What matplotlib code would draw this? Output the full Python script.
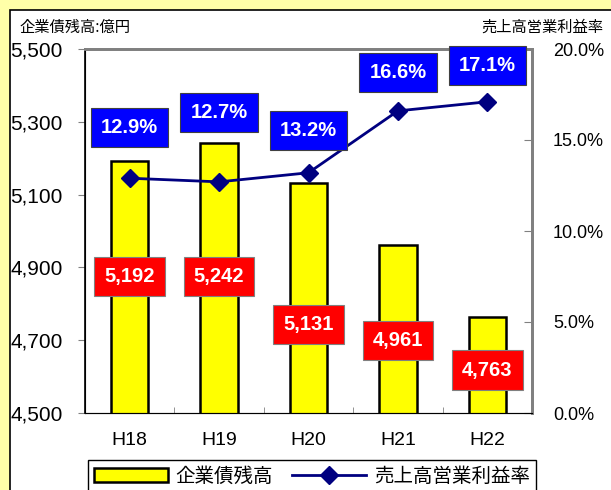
import matplotlib.pyplot as plt
from matplotlib.patches import Rectangle

plt.rcParams['font.family'] = ['Liberation Sans', 'Noto Sans CJK JP', 'DejaVu Sans']

years = ['H18', 'H19', 'H20', 'H21', 'H22']
bonds = [5192, 5242, 5131, 4961, 4763]
margin = [12.9, 12.7, 13.2, 16.6, 17.1]
bond_labels = ['5,192', '5,242', '5,131', '4,961', '4,763']
bond_label_y = [4876, 4876, 4742, 4700, 4618]
margin_label_y = [15.7, 16.5, 15.5, 18.7, 19.1]

fig = plt.figure(figsize=(6.11, 4.90), dpi=100)
fig.patch.set_facecolor('#FFFFA8')
fig.patches.append(Rectangle((10 / 611, -0.1), 1.2, (1 - 10 / 490) + 0.1,
                             transform=fig.transFigure, facecolor='white',
                             edgecolor='black', linewidth=1.2, zorder=-5))

ax = fig.add_axes([85 / 611, 1 - 413 / 490, (532 - 85) / 611, (413 - 49) / 490])
ax.set_facecolor('white')
x = range(len(years))
ax.bar(x, bonds, width=0.42, color='#FFFF00', edgecolor='black', linewidth=1.8,
       label='企業債残高', zorder=2)
ax.set_ylim(4500, 5500)
ax.set_xlim(-0.5, 4.5)
ax.set_yticks([4500, 4700, 4900, 5100, 5300, 5500])
ax.set_yticklabels(['4,500', '4,700', '4,900', '5,100', '5,300', '5,500'], fontsize=15)
ax.set_xticks(x)
ax.set_xticklabels(years, fontsize=14)
ax.set_xticks([0.5, 1.5, 2.5, 3.5], minor=True)
ax.tick_params(axis='x', which='major', length=0, pad=14)
ax.tick_params(axis='x', which='minor', direction='in', length=4, color='gray')
ax.tick_params(axis='y', length=5, color='gray', pad=11)
ax.spines['top'].set_color('gray')
ax.spines['right'].set_color('gray')
ax.spines['top'].set_linewidth(2)
ax.spines['right'].set_linewidth(2)
ax.spines['left'].set_linewidth(1.2)
ax.spines['bottom'].set_color('#404040')

for i in x:
    ax.text(i, bond_label_y[i], bond_labels[i], ha='center', va='center',
            fontsize=14.5, fontweight='bold', color='white', zorder=5,
            bbox=dict(boxstyle='square,pad=0.5', facecolor='#FF0000',
                      edgecolor='#808080', linewidth=0.8))

ax2 = ax.twinx()
ax2.plot(x, margin, color='#000080', linewidth=2, marker='D', markersize=9,
         label='売上高営業利益率', zorder=4)
ax2.set_ylim(0, 20)
ax2.set_yticks([0, 5, 10, 15, 20])
ax2.set_yticklabels(['0.0%', '5.0%', '10.0%', '15.0%', '20.0%'], fontsize=13)
ax2.tick_params(axis='y', direction='in', length=6, color='gray', pad=15)
for s in ['top', 'right']:
    ax2.spines[s].set_color('gray')
    ax2.spines[s].set_linewidth(2)

for i in x:
    ax2.text(i, margin_label_y[i], f'{margin[i]}%', ha='center', va='center',
             fontsize=14.5, fontweight='bold', color='white', zorder=5,
             bbox=dict(boxstyle='square,pad=0.5', facecolor='#0000FF',
                       edgecolor='#404040', linewidth=0.8))

fig.text(20 / 611, 1 - 27 / 490, '企業債残高:億円', fontsize=11,
         family=['Noto Sans CJK JP'], va='center', ha='left')
fig.text(603 / 611, 1 - 27 / 490, '売上高営業利益率', fontsize=11,
         family=['Noto Sans CJK JP'], va='center', ha='right')

h1, l1 = ax.get_legend_handles_labels()
h2, l2 = ax2.get_legend_handles_labels()
leg = fig.legend(h1 + h2, l1 + l2, loc='upper left', ncol=2,
                 bbox_to_anchor=(88 / 611, 1 - 460 / 490), fancybox=False,
                 edgecolor='black', framealpha=1, handlelength=3.8,
                 prop={'family': ['Noto Sans CJK JP'], 'size': 14},
                 borderaxespad=0, columnspacing=1.0, handletextpad=0.4,
                 borderpad=0.3)
leg.get_frame().set_linewidth(1)

fig.savefig('out.png', dpi=100, facecolor=fig.get_facecolor())
